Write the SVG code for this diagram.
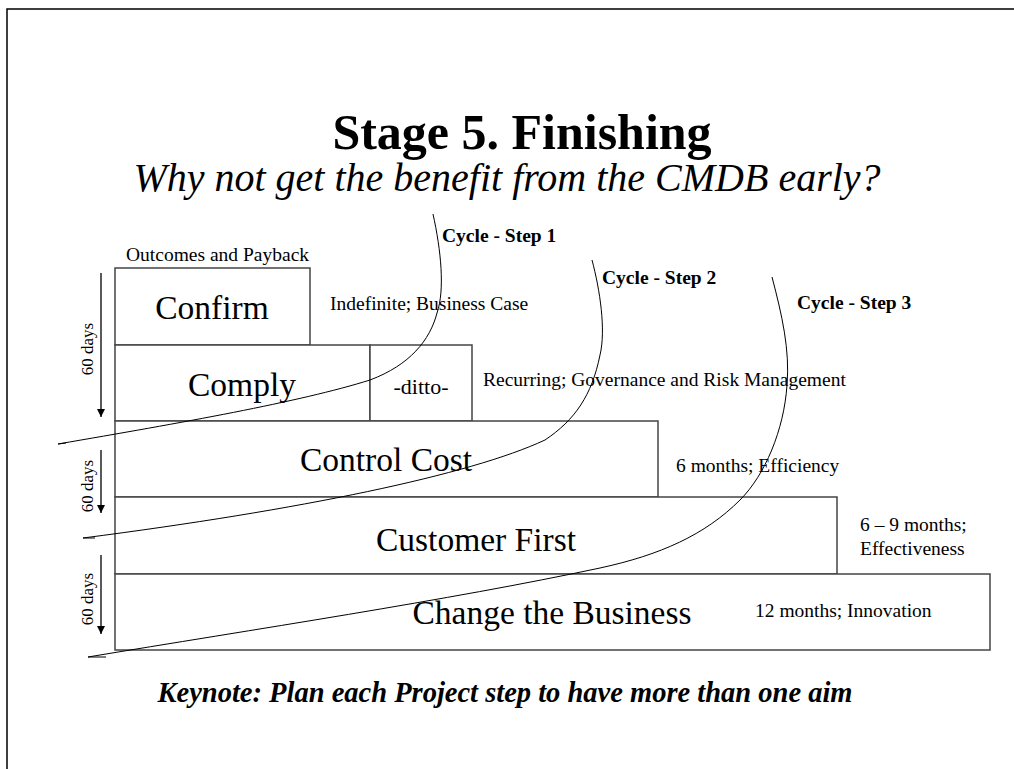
<svg xmlns="http://www.w3.org/2000/svg" width="1014" height="769" viewBox="0 0 1014 769">
  <defs>
    <style>
      .frame { fill: none; stroke: #000; stroke-width: 1.5; }
      .box { fill: #fff; stroke: #444; stroke-width: 1.5; }
      .curve { fill: none; stroke: #000; stroke-width: 1; }
      .tick { fill: none; stroke: #000; stroke-width: 1.3; }
      text { font-family: "Liberation Serif", "Times New Roman", Times, serif; fill: #000; font-weight: normal; font-style: normal; }
      .title { font-size: 50px; font-weight: bold; }
      .sub { font-size: 40px; font-style: italic; }
      .big { font-size: 33.5px; }
      .small { font-size: 19.5px; }
      .step { font-size: 19.5px; font-weight: bold; }
      .ditto { font-size: 22px; }
      .days { font-size: 17px; }
      .key { font-size: 28.5px; font-weight: bold; font-style: italic; }
    </style>
    <marker id="arrow" viewBox="0 0 10 10" refX="10" refY="5" markerWidth="8" markerHeight="8" markerUnits="userSpaceOnUse" orient="auto">
      <path d="M0,0 L10,5 L0,10 Z" fill="#000"/>
    </marker>
  </defs>

  <rect width="1014" height="769" fill="#fff"/>

  <!-- slide frame (top and left edges) -->
  <path class="frame" d="M7,769 L7,9 L1014,9"/>

  <!-- heading -->
  <text class="title" x="522" y="149" text-anchor="middle">Stage 5. Finishing</text>
  <text class="sub" x="507" y="191" text-anchor="middle">Why not get the benefit from the CMDB early?</text>

  <!-- stacked stages -->
  <g id="confirm">
    <rect class="box" x="115" y="268" width="195" height="77"/>
    <text class="big" x="212" y="319" text-anchor="middle">Confirm</text>
  </g>
  <g id="comply">
    <rect class="box" x="115" y="345" width="255" height="76"/>
    <text class="big" x="242" y="396" text-anchor="middle">Comply</text>
  </g>
  <g id="ditto">
    <rect class="box" x="370" y="345" width="102" height="76"/>
    <text class="ditto" x="421" y="394" text-anchor="middle">-ditto-</text>
  </g>
  <g id="control-cost">
    <rect class="box" x="115" y="421" width="543" height="76"/>
    <text class="big" x="386" y="471" text-anchor="middle">Control Cost</text>
  </g>
  <g id="customer-first">
    <rect class="box" x="115" y="497" width="722" height="77"/>
    <text class="big" x="476" y="551" text-anchor="middle">Customer First</text>
  </g>
  <g id="change-business">
    <rect class="box" x="115" y="574" width="875" height="76"/>
    <text class="big" x="552" y="624" text-anchor="middle">Change the Business</text>
  </g>

  <!-- stage annotations -->
  <g id="annotations">
    <text class="small" x="126" y="261">Outcomes and Payback</text>
    <text class="small" x="330" y="310">Indefinite; Business Case</text>
    <text class="small" x="483" y="386">Recurring; Governance and Risk Management</text>
    <text class="small" x="676" y="472">6 months; Efficiency</text>
    <text class="small" x="860" y="531">6 – 9 months;</text>
    <text class="small" x="860" y="555">Effectiveness</text>
    <text class="small" x="755" y="617">12 months; Innovation</text>
  </g>

  <!-- 60-day timeline arrows -->
  <g id="timeline">
    <line class="tick" x1="101" y1="273" x2="101" y2="417" marker-end="url(#arrow)"/>
    <text class="days" transform="translate(93,349) rotate(-90)" text-anchor="middle">60 days</text>
    <line class="tick" x1="101" y1="450" x2="101" y2="513" marker-end="url(#arrow)"/>
    <text class="days" transform="translate(93,486) rotate(-90)" text-anchor="middle">60 days</text>
    <line class="tick" x1="101" y1="555" x2="101" y2="634" marker-end="url(#arrow)"/>
    <text class="days" transform="translate(93,599) rotate(-90)" text-anchor="middle">60 days</text>
  </g>

  <!-- cycle sweeps -->
  <g id="connectors">
    <path class="curve" d="M433,214 C441,250 445,290 437,313 C430,340 410,365 370,380 C300,402 180,423 58,444 L66,443"/>
    <path class="curve" d="M592,260 C600,290 606,330 600,355 C592,395 575,420 545,440 C470,475 300,510 83,538 L95,538"/>
    <path class="curve" d="M772,277 C782,315 790,350 787,385 C784,430 765,475 740,500 C705,535 660,555 600,568 C450,600 250,630 88,657 L106,657"/>
  </g>

  <g id="cycle-labels">
    <text class="step" x="442" y="242">Cycle - Step 1</text>
    <text class="step" x="602" y="284">Cycle - Step 2</text>
    <text class="step" x="797" y="309">Cycle - Step 3</text>
  </g>

  <!-- keynote -->
  <text class="key" x="505" y="702" text-anchor="middle">Keynote: Plan each Project step to have more than one aim</text>
</svg>
